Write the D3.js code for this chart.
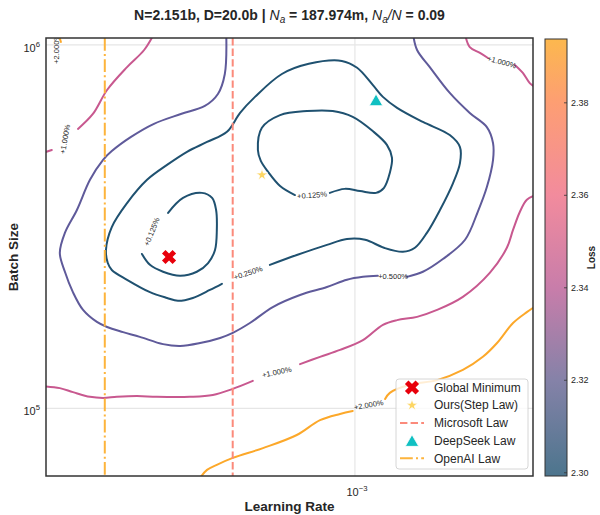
<!DOCTYPE html>
<html>
<head>
<meta charset="utf-8">
<script src="https://cdn.jsdelivr.net/npm/d3@7/dist/d3.min.js"></script>
<style>
html,body{margin:0;padding:0;background:#fff;}
svg text{font-family:"Liberation Sans",Arial,Helvetica,sans-serif;}
</style>
</head>
<body>
<svg id="chart" width="600" height="515"></svg>
<script>
// ================= DATA =================
const lrRange = [1.4125e-4, 3.09e-3];      // x axis (learning rate)
const bsRange = [6.52e4, 1.0447e6];        // y axis (batch size)
const lossRange = [2.2993, 2.3938];        // colour bar
const lossTicks = [2.30, 2.32, 2.34, 2.36, 2.38];
const xTicks = [1e-3];
const yTicks = [1e5, 1e6];

const levelNames = ["+0.125%", "+0.250%", "+0.500%", "+1.000%", "+2.000%"];

// contour lines, points as [log10(learning rate), log10(batch size)]
const c0125a = [[-3.514,5.538],[-3.473,5.579],[-3.421,5.593],[-3.393,5.579],[-3.382,5.546],[-3.380,5.491],[-3.385,5.436],[-3.404,5.400],[-3.435,5.376],[-3.481,5.365],[-3.528,5.376],[-3.564,5.395],[-3.586,5.425]];
const c0125b = [[-3.069,5.593],[-3.028,5.604],[-2.986,5.598],[-2.942,5.593],[-2.920,5.607],[-2.904,5.648],[-2.898,5.689],[-2.912,5.725],[-2.951,5.763],[-3.006,5.802],[-3.061,5.818],[-3.132,5.818],[-3.206,5.807],[-3.256,5.772],[-3.267,5.711],[-3.259,5.681],[-3.239,5.651],[-3.206,5.612],[-3.165,5.587]];
const c0250 = [[-3.234,5.395],[-3.160,5.422],[-3.077,5.450],[-3.022,5.466],[-2.972,5.464],[-2.920,5.442],[-2.868,5.431],[-2.835,5.442],[-2.802,5.483],[-2.766,5.546],[-2.730,5.620],[-2.711,5.675],[-2.711,5.719],[-2.739,5.752],[-2.813,5.788],[-2.884,5.827],[-2.923,5.857],[-2.951,5.890],[-2.994,5.937],[-3.036,5.956],[-3.127,5.948],[-3.201,5.920],[-3.275,5.857],[-3.316,5.813],[-3.352,5.761],[-3.407,5.733],[-3.462,5.706],[-3.517,5.670],[-3.572,5.629],[-3.627,5.565],[-3.669,5.499],[-3.685,5.436],[-3.680,5.400],[-3.669,5.381],[-3.627,5.354],[-3.564,5.320],[-3.517,5.304],[-3.487,5.296],[-3.446,5.304],[-3.399,5.326],[-3.366,5.343]];
const c0500a = [[-3.354,6.030],[-3.358,5.920],[-3.377,5.865],[-3.413,5.832],[-3.479,5.810],[-3.553,5.783],[-3.616,5.747],[-3.669,5.708],[-3.693,5.684],[-3.729,5.629],[-3.765,5.546],[-3.798,5.483],[-3.812,5.428],[-3.798,5.376],[-3.776,5.320],[-3.748,5.271],[-3.710,5.238],[-3.682,5.224],[-3.638,5.210],[-3.592,5.197],[-3.528,5.177],[-3.481,5.172],[-3.426,5.180],[-3.371,5.194],[-3.336,5.208],[-3.289,5.235],[-3.226,5.279],[-3.151,5.312],[-3.077,5.334],[-3.022,5.354],[-2.978,5.362],[-2.937,5.365]];
const c0500b = [[-2.857,5.362],[-2.813,5.376],[-2.758,5.411],[-2.697,5.464],[-2.662,5.541],[-2.637,5.609],[-2.620,5.684],[-2.620,5.730],[-2.637,5.774],[-2.684,5.813],[-2.739,5.868],[-2.794,5.939],[-2.829,5.986],[-2.840,6.030]];
const c1000a = [[-3.867,5.700],[-3.834,5.711]];
const c1000b = [[-3.762,5.769],[-3.721,5.810],[-3.682,5.876],[-3.627,5.939],[-3.580,5.986],[-3.553,6.030]];
const c1000c = [[-2.697,6.030],[-2.684,5.994],[-2.656,5.978],[-2.634,5.964]];
const c1000d = [[-2.560,5.945],[-2.538,5.923],[-2.519,5.895],[-2.502,5.882]];
const c1000e = [[-2.502,5.587],[-2.527,5.574],[-2.546,5.541],[-2.565,5.491],[-2.582,5.442],[-2.629,5.373],[-2.703,5.307],[-2.774,5.271],[-2.829,5.252],[-2.884,5.243],[-2.923,5.230],[-2.978,5.188],[-3.041,5.161],[-3.096,5.142],[-3.151,5.122]];
const c1000f = [[-3.281,5.076],[-3.336,5.054],[-3.391,5.037],[-3.454,5.032],[-3.545,5.032],[-3.600,5.034],[-3.655,5.032],[-3.693,5.029],[-3.729,5.032],[-3.776,5.045],[-3.812,5.056],[-3.867,5.062]];
const c2000a = [[-3.814,6.025],[-3.809,6.008]];
const c2000b = [[-3.426,4.809],[-3.407,4.831],[-3.380,4.845],[-3.336,4.864],[-3.253,4.891],[-3.160,4.927],[-3.096,4.968],[-3.041,4.985],[-3.006,4.993]];
const c2000c = [[-2.917,5.026],[-2.904,5.043],[-2.849,5.065],[-2.774,5.078],[-2.703,5.106],[-2.648,5.142],[-2.609,5.180],[-2.565,5.235],[-2.527,5.265],[-2.502,5.282]];

const contourSegments = [
  {level:0, pts:c0125a}, {level:0, pts:c0125b},
  {level:1, pts:c0250},
  {level:2, pts:c0500a}, {level:2, pts:c0500b},
  {level:3, pts:c1000a}, {level:3, pts:c1000b}, {level:3, pts:c1000c},
  {level:3, pts:c1000d}, {level:3, pts:c1000e}, {level:3, pts:c1000f},
  {level:4, pts:c2000a}, {level:4, pts:c2000b}, {level:4, pts:c2000c}
];
// inline contour labels: [log10(lr), log10(bs)], rotation in degrees
const contourLabels = [
  {level:0, at:[-3.559,5.486], angle:-68},
  {level:0, at:[-3.118,5.587], angle:-4},
  {level:1, at:[-3.294,5.373], angle:-18},
  {level:2, at:[-2.895,5.362], angle:0},
  {level:3, at:[-3.798,5.741], angle:-80},
  {level:3, at:[-2.596,5.953], angle:15},
  {level:3, at:[-3.215,5.100], angle:-12},
  {level:4, at:[-3.822,5.989], angle:-90},
  {level:4, at:[-2.962,5.010], angle:-10}
];

const globalMin = {lr:3.08e-4, bs:2.61e5};
const stepLaw   = {lr:5.55e-4, bs:4.39e5};
const deepSeek  = {lr:1.143e-3, bs:7.06e5};
const microsoftLR = 4.61e-4;
const openaiLR    = 2.05e-4;

const legendItems = ["Global Minimum","Ours(Step Law)","Microsoft Law","DeepSeek Law","OpenAI Law"];

// ================= DRAW =================
const m = {left:46, right:533, top:38, bottom:476};
const x = d3.scaleLog().domain(lrRange).range([m.left, m.right]);
const y = d3.scaleLog().domain(bsRange).range([m.bottom, m.top]);
const P = p => [x(10 ** p[0]), y(10 ** p[1])];

const levelColors = ["#1f5170", "#1f5170", "#5f5a9a", "#c8588f", "#fca82a"];

const svg = d3.select("#chart");
const defs = svg.append("defs");
defs.append("clipPath").attr("id","plotclip").append("rect")
  .attr("x",m.left).attr("y",m.top).attr("width",m.right-m.left).attr("height",m.bottom-m.top);

// grid
const grid = svg.append("g");
yTicks.forEach(v => grid.append("line").attr("x1",m.left).attr("x2",m.right)
  .attr("y1",y(v)).attr("y2",y(v)).attr("stroke","#e6e6e6").attr("stroke-width",1.2));
xTicks.forEach(v => grid.append("line").attr("y1",m.top).attr("y2",m.bottom)
  .attr("x1",x(v)).attr("x2",x(v)).attr("stroke","#e6e6e6").attr("stroke-width",1.2));

const plot = svg.append("g").attr("clip-path","url(#plotclip)");
const line = d3.line().x(p => x(10 ** p[0])).y(p => y(10 ** p[1])).curve(d3.curveCatmullRom.alpha(0.5));

contourSegments.forEach(s => plot.append("path").attr("d", line(s.pts))
  .attr("fill","none").attr("stroke",levelColors[s.level]).attr("stroke-width",2)
  .attr("stroke-linecap","round").attr("stroke-linejoin","round"));

contourLabels.forEach(l => {
  const [px,py] = P(l.at);
  plot.append("text").attr("transform",`translate(${px},${py}) rotate(${l.angle})`)
    .attr("text-anchor","middle").attr("dy","0.35em").attr("font-size",7.5)
    .attr("fill","#262626").text(levelNames[l.level]);
});

// law lines
const msColor = "#fb8a7b", oaColor = "#fdb43c";
plot.append("line").attr("x1",x(microsoftLR)).attr("x2",x(microsoftLR)).attr("y1",m.top).attr("y2",m.bottom)
  .attr("stroke",msColor).attr("stroke-width",2).attr("stroke-dasharray","7.4,3.2");
plot.append("line").attr("x1",x(openaiLR)).attr("x2",x(openaiLR)).attr("y1",m.top).attr("y2",m.bottom)
  .attr("stroke",oaColor).attr("stroke-width",2).attr("stroke-dasharray","12.8,3.2,2,3.2");

// markers
const xSym = d3.symbol(d3.symbolCross, 125)();
const starSym = d3.symbol(d3.symbolStar, 44)();
const triSym = d3.symbol(d3.symbolTriangle, 78)();
const redX = "#e8000b", starColor = "#fdd663", triColor = "#10c0c2";
function drawX(g,cx,cy){ g.append("path").attr("d",xSym).attr("transform",`translate(${cx},${cy}) rotate(45)`).attr("fill",redX); }
function drawStar(g,cx,cy){ g.append("path").attr("d",starSym).attr("transform",`translate(${cx},${cy})`).attr("fill",starColor).attr("stroke","#fff").attr("stroke-width",0.8); }
function drawTri(g,cx,cy){ g.append("path").attr("d",triSym).attr("transform",`translate(${cx},${cy+1.9})`).attr("fill",triColor).attr("stroke","#fff").attr("stroke-width",0.8); }
drawX(plot, x(globalMin.lr), y(globalMin.bs));
drawStar(plot, x(stepLaw.lr), y(stepLaw.bs));
drawTri(plot, x(deepSeek.lr), y(deepSeek.bs));

// frame
svg.append("rect").attr("x",m.left).attr("y",m.top).attr("width",m.right-m.left).attr("height",m.bottom-m.top)
  .attr("fill","none").attr("stroke","#333").attr("stroke-width",1.5);

// tick labels
const expo = v => Math.round(Math.log10(v));
yTicks.forEach(v => {
  const t = svg.append("text").attr("x",40).attr("y",y(v)+7).attr("text-anchor","end").attr("font-size",11).attr("fill","#262626");
  t.append("tspan").text("10");
  t.append("tspan").attr("dy",-5).attr("font-size",7.7).text(String(expo(v)).replace("-","\u2212"));
});
xTicks.forEach(v => {
  const t = svg.append("text").attr("x",x(v)+2).attr("y",m.bottom+20).attr("text-anchor","middle").attr("font-size",11).attr("fill","#262626");
  t.append("tspan").text("10");
  t.append("tspan").attr("dy",-5).attr("font-size",7.7).text(String(expo(v)).replace("-","\u2212"));
});

// axis labels
svg.append("text").attr("x",(m.left+m.right)/2).attr("y",511).attr("text-anchor","middle")
  .attr("font-size",13.5).attr("font-weight","bold").attr("fill","#262626").text("Learning Rate");
svg.append("text").attr("transform",`translate(18,${(m.top+m.bottom)/2}) rotate(-90)`).attr("text-anchor","middle")
  .attr("font-size",13.5).attr("font-weight","bold").attr("fill","#262626").text("Batch Size");

// title
const title = svg.append("text").attr("x",(m.left+m.right)/2).attr("y",20).attr("text-anchor","middle")
  .attr("font-size",14).attr("font-weight","bold").attr("fill","#262626");
title.append("tspan").text("N=2.151b, D=20.0b | ");
title.append("tspan").attr("font-style","italic").attr("font-weight","normal").text("N");
title.append("tspan").attr("font-style","italic").attr("font-weight","normal").attr("font-size",10).attr("dy",3).text("a");
title.append("tspan").attr("dy",-3).text(" = 187.974m, ");
title.append("tspan").attr("font-style","italic").attr("font-weight","normal").text("N");
title.append("tspan").attr("font-style","italic").attr("font-weight","normal").attr("font-size",10).attr("dy",3).text("a");
title.append("tspan").attr("dy",-3).attr("font-style","italic").attr("font-weight","normal").text("/N");
title.append("tspan").text(" = 0.09");

// colour bar
const cb = d3.scaleLinear().domain(lossRange).range([476,39]);
const grad = defs.append("linearGradient").attr("id","cbgrad").attr("x1",0).attr("y1",1).attr("x2",0).attr("y2",0);
[[0,"#4c758d"],[0.219,"#8582a8"],[0.43,"#c87daa"],[0.642,"#f28b9d"],[0.854,"#fd9e73"],[1,"#fcb84e"]]
  .forEach(([o,c]) => grad.append("stop").attr("offset",o).attr("stop-color",c));
const cbx = 545, cbw = 22;
svg.append("rect").attr("x",cbx).attr("y",cb(lossRange[1])).attr("width",cbw).attr("height",cb(lossRange[0])-cb(lossRange[1]))
  .attr("fill","url(#cbgrad)").attr("stroke","#333").attr("stroke-width",1);
lossTicks.forEach(v => {
  svg.append("line").attr("x1",cbx+cbw-3).attr("x2",cbx+cbw).attr("y1",cb(v)).attr("y2",cb(v)).attr("stroke","#333").attr("stroke-width",0.8);
  svg.append("text").attr("x",cbx+cbw+4).attr("y",cb(v)).attr("dy","0.35em").attr("font-size",9).attr("fill","#262626").text(v.toFixed(2));
});
svg.append("text").attr("transform",`translate(595,${(39+476)/2}) rotate(-90)`).attr("text-anchor","middle")
  .attr("font-size",10).attr("font-weight","bold").attr("fill","#262626").text("Loss");

// legend
const lg = svg.append("g");
lg.append("rect").attr("x",396).attr("y",379).attr("width",132).attr("height",90).attr("rx",3)
  .attr("fill","#fff").attr("fill-opacity",0.8).attr("stroke","#cccccc").attr("stroke-width",0.8);
const ly0 = 387.5, ldy = 17.7, lmx = 412, ltx = 434;
legendItems.forEach((name,i) => {
  const yy = ly0 + i*ldy;
  if (i===0) drawX(lg, lmx, yy);
  if (i===1) drawStar(lg, lmx, yy);
  if (i===2) lg.append("line").attr("x1",400).attr("x2",424).attr("y1",yy).attr("y2",yy).attr("stroke",msColor).attr("stroke-width",2).attr("stroke-dasharray","7.4,3.2");
  if (i===3) drawTri(lg, lmx, yy);
  if (i===4) lg.append("line").attr("x1",400).attr("x2",424).attr("y1",yy).attr("y2",yy).attr("stroke",oaColor).attr("stroke-width",2).attr("stroke-dasharray","12.8,3.2,2,3.2");
  lg.append("text").attr("x",ltx).attr("y",yy).attr("dy","0.35em").attr("font-size",12).attr("fill","#262626").text(name);
});
</script>
</body>
</html>
